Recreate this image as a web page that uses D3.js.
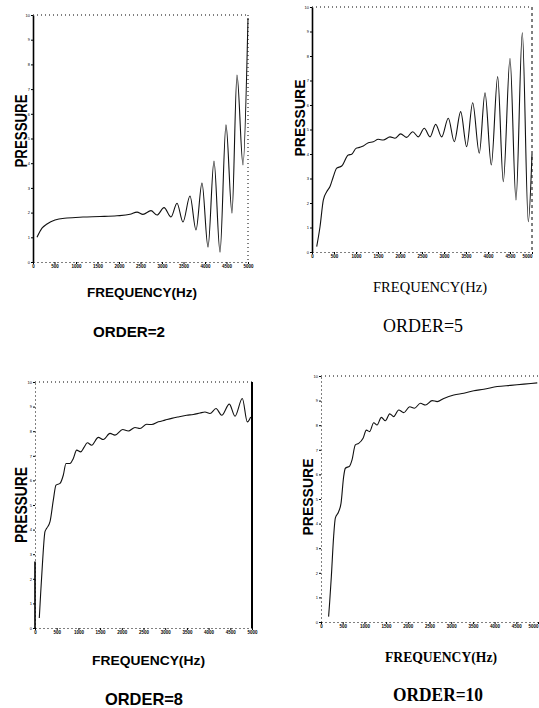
<!DOCTYPE html>
<html>
<head>
<meta charset="utf-8">
<script src="https://cdn.jsdelivr.net/npm/d3@7"></script>
<style>
  body { margin: 0; background: #fff; }
  svg { display: block; }
</style>
</head>
<body>
<div id="chart"></div>
<script>
// Tick values / labels (the scan's labels are barely legible)
const xTicks = [0, 500, 1000, 1500, 2000, 2500, 3000, 3500, 4000, 4500, 5000];
const xTickLabels = ['0', '500', '1000', '1500', '2000', '2500', '3000', '3500', '4000', '4500', '5000'];
const yTicks = [0, 1, 2, 3, 4, 5, 6, 7, 8, 9, 10];
const yTickLabels = ['0', '1', '2', '3', '4', '5', '6', '7', '8', '9', '10'];

// ORDER=2
const freq2 = [93, 209, 326, 512, 790, 1163, 1558, 1953, 2256, 2419, 2558, 2744, 2884, 3047, 3209, 3349, 3488, 3651, 3791, 3930, 4070, 4209, 4349, 4488, 4628, 4744, 4884, 5000];
const pres2 = [1.0, 1.37, 1.54, 1.70, 1.78, 1.82, 1.84, 1.87, 1.93, 2.02, 1.93, 2.08, 1.90, 2.2, 1.82, 2.38, 1.62, 2.67, 1.30, 3.2, 0.6, 4.09, 0.4, 5.55, 1.98, 7.57, 3.93, 9.88];

// ORDER=5
const freq5 = [107, 182, 257, 334, 409, 484, 561, 675, 825, 902, 1000, 1075, 1166, 1280, 1393, 1507, 1620, 1773, 1886, 2015, 2152, 2288, 2416, 2552, 2682, 2811, 2947, 3098, 3234, 3379, 3515, 3652, 3802, 3932, 4075, 4220, 4348, 4500, 4636, 4780, 4916, 5000];
const pres5 = [0.22, 1.03, 2.12, 2.46, 2.67, 3.07, 3.42, 3.51, 3.96, 3.99, 4.23, 4.27, 4.33, 4.46, 4.50, 4.6, 4.57, 4.7, 4.64, 4.82, 4.68, 4.91, 4.7, 5.05, 4.7, 5.21, 4.7, 5.46, 4.5, 5.73, 4.3, 6.09, 4.03, 6.5, 3.55, 7.16, 2.87, 7.9, 2.12, 8.95, 1.24, 4.0];

// ORDER=8
const freq8 = [99, 131, 177, 230, 269, 346, 422, 484, 576, 653, 714, 806, 883, 960, 1053, 1129, 1206, 1306, 1459, 1574, 1728, 1843, 2020, 2150, 2304, 2419, 2573, 2688, 2842, 2995, 3149, 3302, 3495, 3648, 3802, 3917, 4032, 4171, 4302, 4478, 4608, 4777, 4892, 4970];
const pres8 = [0.41, 1.42, 2.77, 3.92, 4.05, 4.32, 5.2, 5.81, 5.88, 6.22, 6.69, 6.69, 6.89, 7.23, 7.16, 7.34, 7.53, 7.43, 7.75, 7.66, 7.91, 7.84, 8.07, 8.01, 8.15, 8.11, 8.28, 8.27, 8.38, 8.45, 8.52, 8.58, 8.65, 8.68, 8.74, 8.78, 8.72, 8.92, 8.65, 9.1, 8.61, 9.33, 8.38, 8.58];

// ORDER=10
const freq10 = [175, 198, 238, 291, 330, 406, 461, 522, 561, 660, 715, 791, 868, 969, 1045, 1121, 1214, 1292, 1391, 1484, 1583, 1675, 1790, 1906, 2044, 2153, 2291, 2407, 2561, 2677, 2829, 3060, 3291, 3521, 3752, 4061, 4368, 4675, 4983];
const pres10 = [0.22, 0.76, 1.84, 3.47, 4.22, 4.48, 4.82, 5.91, 6.25, 6.34, 6.59, 7.2, 7.26, 7.47, 7.8, 7.74, 8.1, 8.01, 8.32, 8.18, 8.46, 8.35, 8.62, 8.51, 8.75, 8.69, 8.89, 8.82, 9.0, 8.96, 9.09, 9.23, 9.3, 9.4, 9.46, 9.57, 9.62, 9.67, 9.72];

const sans = "'Liberation Sans', Arial, sans-serif";
const serif = "'Liberation Serif', 'Times New Roman', serif";

// Panel layout (pixel boxes)
const panels = [
  {
    freq: freq2, pres: pres2,
    box: { x0: 33, x1: 248, y0: 15, y1: 262 },
    left: 'solid', right: 'dotted',
    pressure: { x: 27, y: 131, len: 73, size: 16, font: sans, weight: 'bold' },
    xlabel: { x: 87, y: 297, len: 110, size: 12.5, font: sans, weight: 'bold', text: 'FREQUENCY(Hz)' },
    title: { x: 93, y: 337, len: 72, size: 14, font: sans, weight: 'bold', text: 'ORDER=2' }
  },
  {
    freq: freq5, pres: pres5,
    box: { x0: 312, x1: 532, y0: 7, y1: 252 },
    left: 'solid', right: 'dashed',
    pressure: { x: 305, y: 118, len: 77, size: 14, font: sans, weight: 'bold' },
    xlabel: { x: 373, y: 292, len: 114, size: 15, font: serif, weight: 'normal', text: 'FREQUENCY(Hz)' },
    title: { x: 383, y: 332, len: 80, size: 19, font: serif, weight: 'normal', text: 'ORDER=5' }
  },
  {
    freq: freq8, pres: pres8,
    box: { x0: 35, x1: 252, y0: 382, y1: 628 },
    left: 'dotted', right: 'solid',
    pressure: { x: 27, y: 505, len: 76, size: 16, font: sans, weight: 'bold' },
    xlabel: { x: 92, y: 665, len: 113, size: 13, font: sans, weight: 'bold', text: 'FREQUENCY(Hz)' },
    title: { x: 105, y: 705, len: 78, size: 17, font: sans, weight: 'bold', text: 'ORDER=8' }
  },
  {
    freq: freq10, pres: pres10,
    box: { x0: 321, x1: 538, y0: 376, y1: 622 },
    left: 'dotted', right: 'none',
    pressure: { x: 313, y: 497, len: 77, size: 14, font: sans, weight: 'bold' },
    xlabel: { x: 385, y: 662, len: 112, size: 15, font: serif, weight: 'bold', text: 'FREQUENCY(Hz)' },
    title: { x: 393, y: 701, len: 90, size: 19, font: serif, weight: 'bold', text: 'ORDER=10' }
  }
];

const width = 539;
const height = 708;

const svg = d3.select('#chart')
  .append('svg')
    .attr('width', width)
    .attr('height', height);

const dash = { solid: null, dotted: '1,3', dashed: '3,3' };

const addText = (g, t, label) => g.append('text')
  .attr('x', t.x)
  .attr('y', t.y)
  .attr('textLength', t.len)
  .attr('lengthAdjust', 'spacingAndGlyphs')
  .style('font-family', t.font)
  .style('font-size', t.size + 'px')
  .style('font-weight', t.weight)
  .style('fill', '#000')
  .text(label);

panels.forEach((p) => {
  const b = p.box;
  const g = svg.append('g');

  const xScale = d3.scaleLinear().domain([0, 5000]).range([b.x0, b.x1]);
  const yScale = d3.scaleLinear().domain([0, 10]).range([b.y1, b.y0]);

  // bottom axis (dotted baseline, tiny labels)
  const xAxis = g.append('g')
    .attr('transform', `translate(0,${b.y1})`)
    .call(d3.axisBottom(xScale)
      .tickValues(xTicks)
      .tickSize(2)
      .tickSizeOuter(0)
      .tickPadding(1)
      .tickFormat((d, i) => xTickLabels[i]));
  xAxis.select('.domain').attr('stroke-dasharray', dash.dotted).attr('stroke-width', 1);
  xAxis.selectAll('text').style('font-size', '4.5px').style('font-weight', 'bold').style('font-family', sans);
  // keep the last label inside the page
  xAxis.selectAll('.tick text')
    .filter((d) => xScale(d) > width - 8)
    .attr('text-anchor', 'end');

  // left axis
  const yAxis = g.append('g')
    .attr('transform', `translate(${b.x0},0)`)
    .call(d3.axisLeft(yScale)
      .tickValues(yTicks)
      .tickSize(2)
      .tickSizeOuter(0)
      .tickPadding(1)
      .tickFormat((d, i) => yTickLabels[i]));
  yAxis.select('.domain')
    .attr('stroke-dasharray', dash[p.left])
    .attr('stroke-width', p.left === 'solid' ? 1.6 : 1);
  yAxis.selectAll('text').style('font-size', '4px').style('font-family', sans);

  if (p.left === 'dotted' && p.right === 'solid') {
    // thick solid stub at the bottom of the left edge
    g.append('line')
      .attr('x1', b.x0).attr('x2', b.x0)
      .attr('y1', yScale(0)).attr('y2', yScale(2.7))
      .attr('stroke', '#000').attr('stroke-width', 1.6);
  }

  // top edge
  g.append('line')
    .attr('x1', b.x0).attr('x2', b.x1)
    .attr('y1', b.y0).attr('y2', b.y0)
    .attr('stroke', '#000')
    .attr('stroke-width', 1)
    .attr('stroke-dasharray', dash.dotted);

  // right edge
  if (p.right !== 'none') {
    g.append('line')
      .attr('x1', b.x1).attr('x2', b.x1)
      .attr('y1', b.y0).attr('y2', b.y1)
      .attr('stroke', '#000')
      .attr('stroke-width', p.right === 'solid' ? 2 : 1)
      .attr('stroke-dasharray', dash[p.right]);
  }

  // curve
  const pts = p.freq.map((f, i) => [f, p.pres[i]]);
  const line = d3.line()
    .x((d) => xScale(d[0]))
    .y((d) => yScale(d[1]))
    .curve(d3.curveMonotoneX);

  g.append('path')
    .datum(pts)
    .attr('d', line)
    .attr('fill', 'none')
    .attr('stroke', '#111')
    .attr('stroke-width', 1.1);

  // labels
  g.append('text')
    .attr('transform', `translate(${p.pressure.x},${p.pressure.y}) rotate(-90)`)
    .attr('text-anchor', 'middle')
    .attr('textLength', p.pressure.len)
    .attr('lengthAdjust', 'spacingAndGlyphs')
    .style('font-family', p.pressure.font)
    .style('font-size', p.pressure.size + 'px')
    .style('font-weight', p.pressure.weight)
    .text('PRESSURE');

  addText(g, p.xlabel, p.xlabel.text);
  addText(g, p.title, p.title.text);
});
</script>
</body>
</html>
